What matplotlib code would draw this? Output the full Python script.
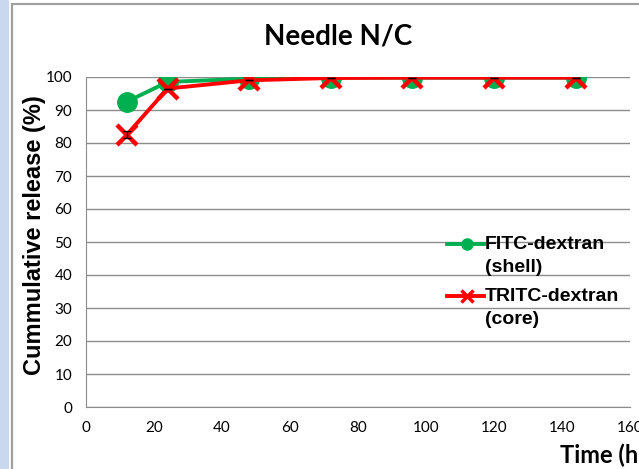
import numpy as np
import matplotlib.pyplot as plt
from matplotlib.patches import Rectangle
from matplotlib.lines import Line2D

# data
time_h = [12, 24, 48, 72, 96, 120, 144]
fitc_shell = [92.5, 98.5, 99.5, 99.8, 99.8, 99.8, 99.8]
tritc_core = [82.5, 96.5, 99.0, 99.7, 99.8, 99.8, 99.8]
tritc_err = [1.0, 0, 0, 0, 0, 0, 0]
series_names = [('FITC-dextran', '(shell)'), ('TRITC-dextran', '(core)')]

x_ticks = np.arange(0, 161, 20)
y_ticks = np.arange(0, 101, 10)

W, H = 639, 469
fig = plt.figure(figsize=(W / 100, H / 100), dpi=100)

# window chrome: blue strip on the left and the chart area border
fig.patches.append(Rectangle((0, 0), 9 / W, 1, transform=fig.transFigure,
                             facecolor='#c9d7ef', edgecolor='none', zorder=-2))
fig.patches.append(Rectangle((12 / W, -0.01), 1, 1 - 4 / H + 0.01,
                             transform=fig.transFigure, facecolor='white',
                             edgecolor='#a0a0a0', linewidth=1.6, zorder=-1))

ax = fig.add_axes([86 / W, 1 - 407 / H, (630 - 86) / W, (407 - 77) / H])

green, red = '#00b050', '#ff0000'
ax.plot(time_h, fitc_shell, color=green, lw=2.8, marker='o', ms=14, zorder=3)
ax.errorbar(time_h, tritc_core, yerr=tritc_err, fmt='none', ecolor='black',
            elinewidth=1, capsize=3, zorder=5)
ax.plot(time_h, tritc_core, color=red, lw=2.8, marker='x', ms=14,
        mew=3.2, zorder=4)

ax.set_xlim(0, 160)
ax.set_ylim(0, 100)
ax.set_xticks(x_ticks)
ax.set_yticks(y_ticks)
ax.grid(axis='y', color='#8c8c8c', lw=1)
ax.set_axisbelow(True)
for s in ['top', 'right']:
    ax.spines[s].set_visible(False)
for s in ['left', 'bottom']:
    ax.spines[s].set_color('#8c8c8c')
ax.tick_params(length=0, pad=10, labelsize=11)
for lab in ax.get_xticklabels() + ax.get_yticklabels():
    lab.set_fontfamily('Lato')

fig.text(338 / W, 1 - 37 / H, 'Needle N/C', ha='center', va='center',
         fontsize=20, fontweight='bold', family='Lato')
fig.text(35 / W, 1 - 235 / H, 'Cummulative release (%)', rotation=90,
         ha='center', va='center', fontsize=17, fontweight='bold',
         family='Liberation Sans')
fig.text(560 / W, 1 - 455 / H, 'Time (h)', ha='left', va='center',
         fontsize=17, fontweight='bold', family='Lato')

# legend, Excel style: handle sits on the first line of each label
styles = [dict(color=green, marker='o', ms=8),
          dict(color=red, marker='x', ms=9, mew=2.5)]
for i, ((l1, l2), st) in enumerate(zip(series_names, styles)):
    y0 = 244 + i * 52
    fig.add_artist(Line2D([447 / W, 467 / W, 484 / W], [1 - y0 / H] * 3,
                          lw=2.8, markevery=[1], **st))
    fig.text(485 / W, 1 - y0 / H, l1, ha='left', va='center', fontsize=14,
             fontweight='bold', family='Liberation Sans')
    fig.text(485 / W, 1 - (y0 + 24) / H, l2, ha='left', va='center',
             fontsize=14, fontweight='bold', family='Liberation Sans')

fig.savefig('out.png', dpi=100)
